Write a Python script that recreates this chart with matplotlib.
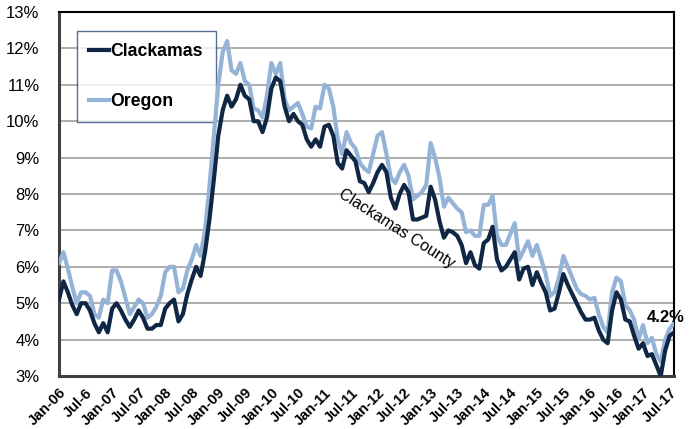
import matplotlib
matplotlib.use("Agg")
import matplotlib.pyplot as plt
from matplotlib.ticker import FuncFormatter, MultipleLocator

plt.rcParams['font.family'] = ['Liberation Sans', 'DejaVu Sans']

clackamas = [5.1, 5.6, 5.3, 4.95, 4.7, 5.0, 5.0, 4.8, 4.45, 4.2,
             4.45, 4.2, 4.85, 5.0, 4.8, 4.55, 4.35, 4.55, 4.8, 4.6,
             4.3, 4.3, 4.4, 4.4, 4.85, 5.0, 5.1, 4.5, 4.7, 5.25,
             5.65, 6.0, 5.75, 6.4, 7.3, 8.4, 9.6, 10.3, 10.7, 10.4,
             10.6, 11.0, 10.7, 10.6, 10.0, 10.0, 9.7, 10.1, 10.9, 11.2,
             11.1, 10.4, 10.0, 10.2, 10.0, 9.9, 9.5, 9.3, 9.5, 9.3,
             9.85, 9.9, 9.6, 8.85, 8.7, 9.2, 9.05, 8.9, 8.35, 8.3,
             8.05, 8.3, 8.6, 8.8, 8.6, 7.9, 7.6, 8.0, 8.25, 8.05,
             7.3, 7.3, 7.35, 7.4, 8.2, 7.85, 7.25, 6.8, 7.0, 6.95,
             6.85, 6.6, 6.1, 6.4, 6.05, 5.95, 6.65, 6.75, 7.1, 6.2,
             5.9, 6.0, 6.2, 6.4, 5.65, 5.95, 6.0, 5.5, 5.85, 5.55,
             5.3, 4.8, 4.85, 5.3, 5.8, 5.5, 5.25, 5.0, 4.75, 4.55,
             4.55, 4.6, 4.25, 4.0, 3.9, 4.8, 5.3, 5.1, 4.55, 4.5,
             4.1, 3.75, 3.9, 3.55, 3.6, 3.3, 3.0, 3.7, 4.1, 4.2]

oregon = [6.1, 6.4, 5.95, 5.45, 5.0, 5.3, 5.3, 5.2, 4.7, 4.6,
          5.1, 5.0, 5.9, 5.9, 5.6, 5.15, 4.7, 4.9, 5.1, 5.0,
          4.6, 4.7, 4.9, 5.2, 5.85, 6.0, 6.0, 5.3, 5.4, 5.9,
          6.2, 6.6, 6.3, 7.0, 8.2, 9.6, 11.0, 11.9, 12.2, 11.4,
          11.3, 11.6, 11.1, 11.0, 10.35, 10.3, 10.1, 10.7, 11.6, 11.3,
          11.6, 10.6, 10.3, 10.4, 10.5, 10.2, 9.85, 9.8, 10.4, 10.35,
          11.0, 10.9, 10.4, 9.5, 9.1, 9.7, 9.4, 9.25, 8.85, 8.7,
          8.6, 9.1, 9.6, 9.7, 9.1, 8.45, 8.3, 8.6, 8.8, 8.5,
          7.85, 7.95, 8.05, 8.25, 9.4, 9.0, 8.45, 7.65, 7.9, 7.75,
          7.6, 7.5, 6.95, 7.0, 6.85, 6.85, 7.7, 7.7, 7.95, 6.85,
          6.6, 6.6, 6.9, 7.2, 6.2, 6.45, 6.7, 6.3, 6.6, 6.2,
          5.8, 5.2, 5.3, 5.7, 6.3, 6.0, 5.7, 5.4, 5.25, 5.2,
          5.1, 5.15, 4.7, 4.35, 4.2, 5.3, 5.7, 5.6, 4.95, 4.8,
          4.55, 4.0, 4.4, 3.9, 4.05, 3.6, 3.4, 4.0, 4.3, 4.45]

tick_labels = ["Jan-06", "Jul-6", "Jan-07", "Jul-07", "Jan-08", "Jul-08",
               "Jan-09", "Jul-09", "Jan-10", "Jul-10", "Jan-11", "Jul-11",
               "Jan-12", "Jul-12", "Jan-13", "Jul-13", "Jan-14", "Jul-14",
               "Jan-15", "Jul-15", "Jan-16", "Jul-16", "Jan-17", "Jul-17"]

DARK = "#0f2744"
LIGHT = "#95b3d7"

fig = plt.figure(figsize=(6.93, 4.29), dpi=100)
ax = fig.add_axes([59/693, 1-376/429, 615/693, 364/429])

x = list(range(len(clackamas)))
ax.plot(x, oregon, color=LIGHT, lw=3.0, label="Oregon", zorder=3, solid_joinstyle='round')
ax.plot(x, clackamas, color=DARK, lw=3.0, label="Clackamas", zorder=4, solid_joinstyle='round')

ax.set_xlim(0, len(clackamas) - 1)
ax.set_ylim(3, 13)
ax.yaxis.set_major_locator(MultipleLocator(1))
ax.yaxis.set_major_formatter(FuncFormatter(lambda v, p: f"{v:.0f}%"))
ax.grid(axis='y', color='#a6a6a6', lw=1.3)
ax.set_axisbelow(True)

ax.set_xticks(list(range(0, len(clackamas), 6)))
ax.set_xticklabels(tick_labels, rotation=45, ha='right', rotation_mode='anchor',
                   fontsize=10.5, fontweight='bold')
ax.tick_params(axis='x', length=0, pad=7)
ax.tick_params(axis='y', length=0, pad=14, labelsize=12)

for s in ['top', 'right']:
    ax.spines[s].set_color('black')
    ax.spines[s].set_linewidth(1.5)
for s in ['left', 'bottom']:
    ax.spines[s].set_color('#404040')
    ax.spines[s].set_linewidth(2.2)

handles, labels = ax.get_legend_handles_labels()
leg = ax.legend(handles[::-1], labels[::-1], loc='upper left',
                bbox_to_anchor=(0.029, 0.948),
                prop={'weight': 'bold', 'size': 12.7},
                frameon=True, fancybox=False, borderpad=0.7,
                labelspacing=1.85, handlelength=1.1, handletextpad=0.12,
                borderaxespad=0)
leg.get_frame().set_edgecolor('#2e4a7d')
leg.get_frame().set_linewidth(1.0)
leg.set_zorder(2.5)

ax.text(76.3, 7.04, "Clackamas County", rotation=-32.5, ha='center', va='center',
        rotation_mode='anchor', fontsize=11.5, color='black')
ax.text(137.2, 4.6, "4.2%", ha='center', va='center', fontsize=12,
        fontweight='bold', color='black', zorder=5)

fig.savefig("out.png", dpi=100)
